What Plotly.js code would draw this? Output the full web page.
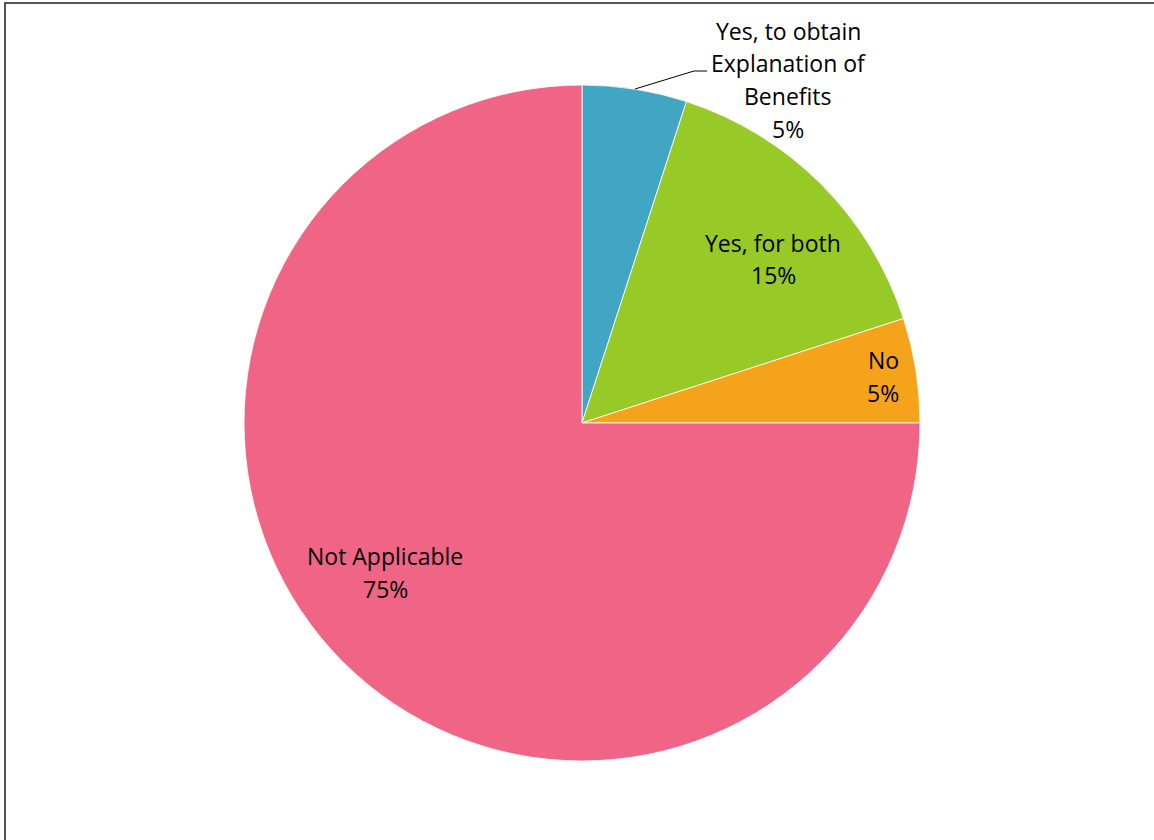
<!DOCTYPE html>
<html>
<head>
<meta charset="utf-8">
<script src="https://cdn.plot.ly/plotly-3.0.1.min.js"></script>
<style>html,body{margin:0;padding:0;background:#fff;}#chart{width:1154px;height:840px;}</style>
</head>
<body>
<div id="chart"></div>
<script>
const labels = ["Yes, to obtain Explanation of Benefits", "Yes, for both", "No", "Not Applicable"];
const values = [5, 15, 5, 75];
const colors = ["#41A5C4", "#97C927", "#F5A31A", "#F06586"];
const labelLines = [["Yes, to obtain", "Explanation of", "Benefits"], ["Yes, for both"], ["No"], ["Not Applicable"]];

const W = 1154, H = 840;
const px = x => x / W;
const py = y => 1 - y / H;

// label anchor (pixel) for each slice: centre x, first line y
const labelPos = [[788, 31], [773, 243], [883, 360], [385, 556]];
const lineGap = 32.5;

const total = values.reduce((a, b) => a + b, 0);
const annotations = [];
labels.forEach((lab, i) => {
  const lines = labelLines[i].concat([Math.round(values[i] / total * 100) + "%"]);
  lines.forEach((t, j) => {
    annotations.push({
      text: t, showarrow: false, xref: "paper", yref: "paper",
      x: px(labelPos[i][0]), y: py(labelPos[i][1] + j * lineGap),
      xanchor: "center", yanchor: "middle",
      font: {family: "'Open Sans', sans-serif", size: 23, color: "#000"}
    });
  });
});

const cx = 582, cy = 423, r = 338;
const trace = {
  type: "pie", labels: labels, values: values, sort: false, direction: "clockwise", rotation: 0,
  marker: {colors: colors, line: {color: "#ffffff", width: 0.8}},
  textinfo: "none", hoverinfo: "label+percent",
  domain: {x: [px(cx - r), px(cx + r)], y: [py(cy + r), py(cy - r)]},
  showlegend: false
};

const layout = {
  width: W, height: H, margin: {l: 0, r: 0, t: 0, b: 0},
  paper_bgcolor: "#fff", plot_bgcolor: "#fff", showlegend: false,
  annotations: annotations,
  shapes: [
    {type: "line", xref: "paper", yref: "paper", x0: px(5), x1: px(5), y0: 0, y1: py(2), line: {color: "#555555", width: 2}},
    {type: "line", xref: "paper", yref: "paper", x0: px(4), x1: 1, y0: py(3), y1: py(3), line: {color: "#555555", width: 2}},
    {type: "path", xref: "paper", yref: "paper",
     path: "M " + px(635) + " " + py(89) + " L " + px(694) + " " + py(71) + " L " + px(707) + " " + py(71),
     line: {color: "#000000", width: 1}}
  ]
};

Plotly.newPlot("chart", [trace], layout, {displayModeBar: false, staticPlot: true});
</script>
</body>
</html>
